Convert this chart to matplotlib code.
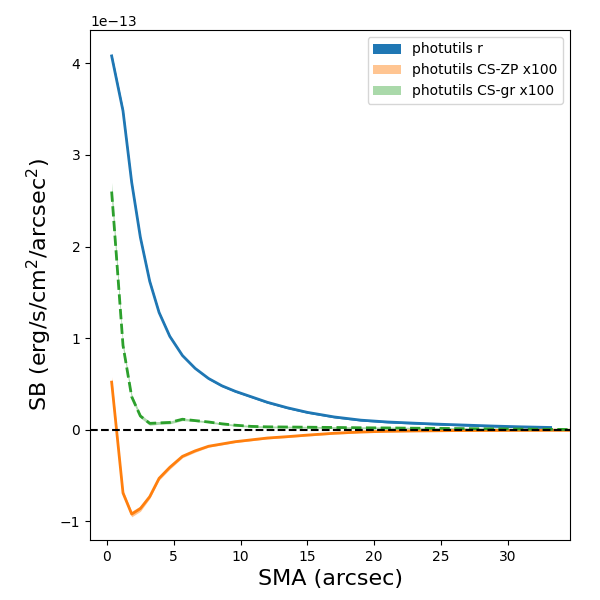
import matplotlib
matplotlib.use('Agg')
import matplotlib.pyplot as plt
import numpy as np

# semi-major axis (arcsec)
sma = [0.35, 1.2, 1.85, 2.5, 3.2, 3.9, 4.7, 5.65, 6.6, 7.6, 8.6, 9.6, 10.8,
       12.0, 13.5, 15.0, 17.0, 19.0, 21.0, 23.0, 25.0, 27.0, 29.0, 31.0, 33.2, 34.65]

# surface brightness in units of 1e-13 erg/s/cm2/arcsec2
sb_r = [4.08, 3.48, 2.7, 2.1, 1.62, 1.28, 1.02, 0.81, 0.67, 0.56, 0.48, 0.42, 0.36,
        0.30, 0.24, 0.19, 0.14, 0.105, 0.085, 0.072, 0.06, 0.05, 0.04, 0.032, 0.025, np.nan]
err_r = [0.03, 0.03, 0.025, 0.02, 0.02, 0.015, 0.015, 0.01, 0.01, 0.01, 0.01, 0.01, 0.01,
         0.01, 0.01, 0.01, 0.01, 0.01, 0.01, 0.01, 0.01, 0.01, 0.01, 0.01, 0.01, np.nan]

sb_zp = [0.52, -0.69, -0.92, -0.86, -0.73, -0.53, -0.41, -0.29, -0.23, -0.18, -0.155, -0.13, -0.11,
         -0.09, -0.075, -0.058, -0.038, -0.024, -0.016, -0.012, -0.01, -0.008, -0.007, -0.006, -0.005, -0.005]
err_zp = [0.06, 0.03, 0.03, 0.03, 0.02, 0.02, 0.02, 0.015, 0.015, 0.01, 0.01, 0.01, 0.01,
          0.01, 0.01, 0.01, 0.01, 0.01, 0.01, 0.01, 0.01, 0.01, 0.01, 0.01, 0.01, 0.01]

sb_gr = [2.6, 0.92, 0.36, 0.15, 0.07, 0.075, 0.08, 0.115, 0.10, 0.085, 0.065, 0.05, 0.037,
         0.032, 0.03, 0.028, 0.025, 0.022, 0.02, 0.017, 0.015, 0.012, 0.01, 0.008, 0.005, 0.003]
err_gr = [0.1, 0.04, 0.03, 0.02, 0.02, 0.015, 0.015, 0.015, 0.01, 0.01, 0.01, 0.01, 0.01,
          0.01, 0.01, 0.01, 0.01, 0.01, 0.01, 0.01, 0.01, 0.01, 0.01, 0.01, 0.01, 0.01]

x = np.array(sma)
scale = 1e-13


def band(ax, y, err, color, alpha, label, ls='-'):
    y = np.array(y) * scale
    e = np.array(err) * scale
    ax.fill_between(x, y - e, y + e, color=color, alpha=alpha, label=label, lw=0)
    ax.plot(x, y, color=color, ls=ls, lw=2)


fig, ax = plt.subplots(figsize=(6, 6), dpi=100)
band(ax, sb_r, err_r, 'C0', 1.0, 'photutils r')
band(ax, sb_zp, err_zp, 'C1', 0.45, 'photutils CS-ZP x100')
band(ax, sb_gr, err_gr, 'C2', 0.4, 'photutils CS-gr x100', ls='--')
ax.axhline(0, color='k', ls='--', lw=1.5)

ax.set_xlim(-1.27, sma[-1])
ax.set_xlabel('SMA (arcsec)', fontsize=16)
ax.set_ylabel('SB (erg/s/cm$^2$/arcsec$^2$)', fontsize=16)
ax.legend(loc='upper right')

plt.subplots_adjust(left=0.15, right=0.95, top=0.95, bottom=0.1)
plt.savefig('out.png')
plt.close()
